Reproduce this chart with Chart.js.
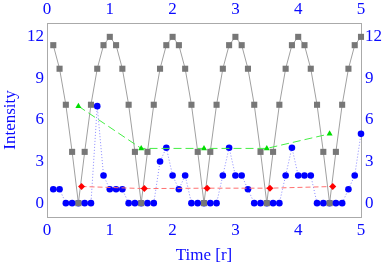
<!DOCTYPE html>
<html>
<head>
<meta charset="utf-8">
<script src="https://cdn.jsdelivr.net/npm/chart.js@4/dist/chart.umd.min.js"></script>
<style>
    body { margin: 0; background: #fff; }
    canvas { display: block; }
</style>
</head>
<body>
<canvas id="chart" width="382" height="266"></canvas>
<script>
// --- Data ---

// sample times, shared by the gray and blue series
const times = [
    0.1, 0.2, 0.3, 0.4, 0.5, 0.6, 0.7, 0.8, 0.9, 1.0,
    1.1, 1.2, 1.3, 1.4, 1.5, 1.6, 1.7, 1.8, 1.9, 2.0,
    2.1, 2.2, 2.3, 2.4, 2.5, 2.6, 2.7, 2.8, 2.9, 3.0,
    3.1, 3.2, 3.3, 3.4, 3.5, 3.6, 3.7, 3.8, 3.9, 4.0,
    4.1, 4.2, 4.3, 4.4, 4.5, 4.6, 4.7, 4.8, 4.9, 5.0
];

const grayValues = [
    11.4, 9.7, 7.1, 3.7, 0, 3.7, 7.1, 9.7, 11.4, 12,
    11.4, 9.7, 7.1, 3.7, 0, 3.7, 7.1, 9.7, 11.4, 12,
    11.4, 9.7, 7.1, 3.7, 0, 3.7, 7.1, 9.7, 11.4, 12,
    11.4, 9.7, 7.1, 3.7, 0, 3.7, 7.1, 9.7, 11.4, 12,
    11.4, 9.7, 7.1, 3.7, 0, 3.7, 7.1, 9.7, 11.4, 12
];

const blueValues = [
    1, 1, 0, 0, 0, 0, 0, 7, 2, 1,
    1, 1, 0, 0, 0, 0, 0, 3, 4, 2,
    1, 2, 0, 0, 0, 0, 0, 2, 4, 2,
    2, 1, 0, 0, 0, 0, 0, 2, 4, 2,
    2, 2, 0, 0, 0, 0, 0, 1, 2, 5
];

const greenTimes = [0.5, 1.5, 2.5, 3.5, 4.5];
const greenValues = [7.0, 3.95, 3.95, 3.95, 5.0];

const redTimes = [0.55, 1.55, 2.55, 3.55, 4.55];
const redValues = [1.2, 1.05, 1.08, 1.08, 1.2];

const xTickValues = [0, 1, 2, 3, 4, 5];
const yTickValues = [0, 3, 6, 9, 12];

const xTitle = 'Time [r]';
const yTitle = 'Intensity';

// --- Helpers ---

const toPoints = (xs, ys) => xs.map((x, i) => ({ x: x, y: ys[i] }));

const textColor = '#0a0aff';
const axisColor = '#aaaaaa';
const tickFont = { family: 'Liberation Serif', size: 17 };

function fixSize(w, h) {
    return scale => {
        if (w !== null) scale.width = w;
        if (h !== null) scale.height = h;
    };
}

function setTicks(values) {
    return scale => {
        scale.ticks = values.map(v => ({ value: v }));
    };
}

function xAxis(position, height, padding, withTitle) {
    return {
        type: 'linear',
        position: position,
        min: 0,
        max: 5,
        grid: { display: false, drawTicks: false },
        border: { display: true, color: axisColor, width: 1 },
        ticks: { color: textColor, font: tickFont, padding: padding, maxRotation: 0 },
        title: {
            display: withTitle,
            text: xTitle,
            color: textColor,
            font: tickFont,
            padding: { top: 0, bottom: 0 }
        },
        afterBuildTicks: setTicks(xTickValues),
        afterFit: fixSize(null, height)
    };
}

function yAxis(position, width, padding, withTitle) {
    return {
        type: 'linear',
        position: position,
        min: -1,
        max: 13,
        grid: { display: false, drawTicks: false },
        border: { display: true, color: axisColor, width: 1 },
        ticks: { color: textColor, font: tickFont, padding: padding },
        title: {
            display: withTitle,
            text: yTitle,
            color: textColor,
            font: tickFont,
            padding: { top: 0, bottom: 0 }
        },
        afterBuildTicks: setTicks(yTickValues),
        afterFit: fixSize(width, null)
    };
}

// --- Chart ---

const ctx = document.getElementById('chart').getContext('2d');
new Chart(ctx, {
    type: 'scatter',
    data: {
        datasets: [
            {
                // green triangles, dashed
                data: toPoints(greenTimes, greenValues),
                showLine: true,
                borderColor: '#44ee44',
                borderWidth: 1,
                borderDash: [8, 4],
                pointStyle: 'triangle',
                pointRadius: 3.5,
                pointBackgroundColor: '#00dd00',
                pointBorderColor: '#00dd00',
                pointBorderWidth: 0,
                clip: false
            },
            {
                // red diamonds, dashed
                data: toPoints(redTimes, redValues),
                showLine: true,
                borderColor: '#ff7070',
                borderWidth: 1,
                borderDash: [5, 3],
                pointStyle: 'rectRot',
                pointRadius: 3.5,
                pointBackgroundColor: '#ff0000',
                pointBorderColor: '#ff0000',
                pointBorderWidth: 0,
                clip: false
            },
            {
                // gray squares, solid
                data: toPoints(times, grayValues),
                showLine: true,
                borderColor: '#a0a0a0',
                borderWidth: 1,
                pointStyle: 'rect',
                pointRadius: 4.3,
                pointBackgroundColor: '#777777',
                pointBorderColor: '#777777',
                pointBorderWidth: 0,
                clip: false
            },
            {
                // blue dots, dotted
                data: toPoints(times, blueValues),
                showLine: true,
                borderColor: 'rgba(60, 60, 255, 0.6)',
                borderWidth: 1,
                borderDash: [1, 2],
                pointStyle: 'circle',
                pointRadius: 3.3,
                pointBackgroundColor: '#0000ff',
                pointBorderColor: '#0000ff',
                pointBorderWidth: 0,
                clip: false
            }
        ]
    },
    options: {
        responsive: false,
        animation: false,
        layout: { padding: 0 },
        plugins: {
            legend: { display: false },
            tooltip: { enabled: false }
        },
        scales: {
            x: xAxis('bottom', 49, 3, true),
            x2: xAxis('top', 23, 3, false),
            y: yAxis('left', 47, 3, true),
            y2: yAxis('right', 21, 4, false)
        }
    }
});
</script>
</body>
</html>
